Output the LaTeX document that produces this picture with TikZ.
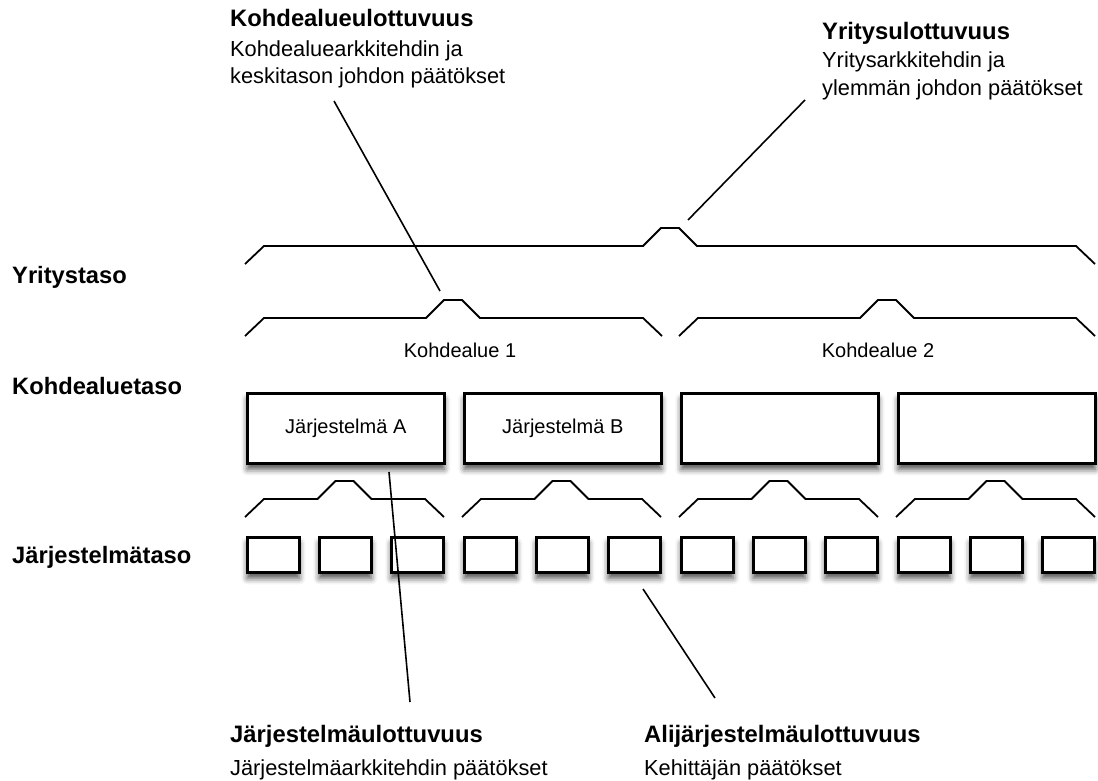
\documentclass[tikz,border=0pt]{standalone}
\usepackage{fontspec}
\setmainfont{Liberation Sans}
\usetikzlibrary{shadows.blur}

\tikzset{
  px/.style={x=1pt,y=-1pt},
  captitle/.style={font=\fontsize{23.8}{27}\bfseries, inner sep=0pt, anchor=base west},
  capsub/.style={font=\fontsize{21.8}{25}\selectfont, inner sep=0pt, anchor=base west},
  lyrlabel/.style={font=\fontsize{23.7}{27}\bfseries, inner sep=0pt, anchor=base west},
  domlabel/.style={font=\fontsize{20}{24}\selectfont, inner sep=0pt, anchor=base},
  boxshadow/.style={blur shadow={shadow xshift=0pt, shadow yshift=-6pt,
      shadow blur radius=6pt, shadow opacity=70}},
  sysbox/.style={draw, line width=2.6pt, fill=white, boxshadow,
      minimum width=197pt, minimum height=70pt, inner sep=0pt, anchor=north west,
      font=\fontsize{20}{24}\selectfont},
  subbox/.style={draw, line width=2.6pt, fill=white, boxshadow,
      minimum width=52pt, minimum height=35pt, inner sep=0pt, anchor=north west},
  bracket/.style={line width=1.8pt, line join=miter},
  pointer/.style={line width=1.6pt},
}

% bracket: left end x, right end x, level y, peak centre x
\newcommand{\levelbracket}[4]{%
  \draw[bracket] (#1,{#3+18}) -- ({#1+19},#3) -- ({#4-27},#3) -- ({#4-9},{#3-18})
    -- ({#4+9},{#3-18}) -- ({#4+27},#3) -- ({#2-19},#3) -- (#2,{#3+18});}

\begin{document}
\begin{tikzpicture}[px]
\useasboundingbox (0,0) rectangle (1098,781);

% layer names
\node[lyrlabel] (lyr1) at (12,283) {Yritystaso};
\node[lyrlabel] (lyr2) at (12,394) {Kohdealuetaso};
\node[lyrlabel] (lyr3) at (12,563) {Järjestelmätaso};

% enterprise bracket
\levelbracket{245}{1095}{246}{670}

% domain brackets and names
\levelbracket{245}{662}{318}{453}
\levelbracket{679}{1095}{318}{887}
\node[domlabel] (dom1) at (460,357) {Kohdealue 1};
\node[domlabel] (dom2) at (878,357) {Kohdealue 2};

% systems
\node[sysbox] (sysA) at (246,392) {Järjestelmä A};
\node[sysbox] (sysB) at (463,392) {Järjestelmä B};
\node[sysbox] (sysC) at (680,392) {};
\node[sysbox] (sysD) at (897,392) {};

% system brackets
\foreach \g in {0,1,2,3}{
  \pgfmathsetmacro{\xa}{245+217*\g}
  \levelbracket{\xa}{\xa+199}{499}{\xa+99.5}
}

% subsystems
\foreach \g in {0,1,2,3}{
  \foreach \k in {0,1,2}{
    \node[subbox] (sub\g\k) at ({246+217*\g+72*\k},536) {};
  }
}

% dimension captions
\node[captitle] (dimDom) at (230,27) {Kohdealueulottuvuus};
\node[capsub] (dimDom1) at (230,57) {Kohdealuearkkitehdin ja};
\node[capsub] (dimDom2) at (230,84) {keskitason johdon päätökset};

\node[captitle] (dimEnt) at (822,40) {Yritysulottuvuus};
\node[capsub] (dimEnt1) at (822,68) {Yritysarkkitehdin ja};
\node[capsub] (dimEnt2) at (822,96) {ylemmän johdon päätökset};

\node[captitle] (dimSys) at (230,742) {Järjestelmäulottuvuus};
\node[capsub] (dimSys1) at (230,775) {Järjestelmäarkkitehdin päätökset};

\node[captitle] (dimSub) at (644,742) {Alijärjestelmäulottuvuus};
\node[capsub] (dimSub1) at (644,775) {Kehittäjän päätökset};

% pointer lines
\coordinate (pEntA) at (805,100);
\coordinate (pEntB) at (688,220);
\coordinate (pDomA) at (334,101);
\coordinate (pDomB) at (440,291);
\coordinate (pSysA) at (389,472);
\coordinate (pSysB) at (410,702);
\coordinate (pSubA) at (643,589);
\coordinate (pSubB) at (715,698);
\draw[pointer] (pEntA) -- (pEntB);
\draw[pointer] (pDomA) -- (pDomB);
\draw[pointer] (pSysA) -- (pSysB);
\draw[pointer] (pSubA) -- (pSubB);
\end{tikzpicture}
\end{document}
